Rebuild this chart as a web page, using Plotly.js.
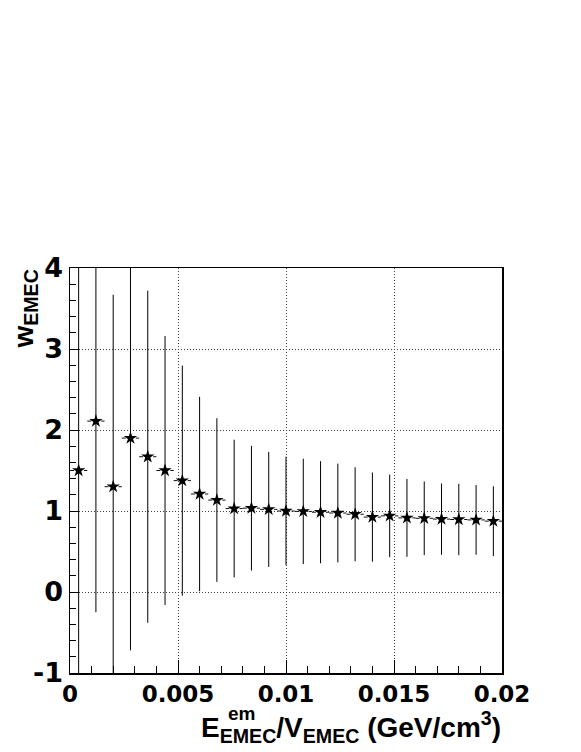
<!DOCTYPE html>
<html>
<head>
<meta charset="utf-8">
<script src="https://cdn.plot.ly/plotly-3.0.1.min.js"></script>
<style>
  body { margin: 0; background: #fff; }
  #C1 { width: 581px; height: 752px; }
</style>
</head>
<body>
<div id="C1"></div>
<script>
// bin centres of E_em/V (GeV/cm^3)
const xVals = [0.0004, 0.0012, 0.0020, 0.0028, 0.0036, 0.0044, 0.0052, 0.0060, 0.0068,
  0.0076, 0.0084, 0.0092, 0.0100, 0.0108, 0.0116, 0.0124, 0.0132, 0.0140,
  0.0148, 0.0156, 0.0164, 0.0172, 0.0180, 0.0188, 0.0196];
// w_EMEC per bin
const wVals = [1.50, 2.11, 1.30, 1.90, 1.67, 1.50, 1.375, 1.21, 1.135,
  1.03, 1.035, 1.02, 1.00, 0.995, 0.985, 0.975, 0.96, 0.925,
  0.94, 0.915, 0.91, 0.90, 0.895, 0.89, 0.875];
// error on w
const wErr = [3.2, 2.36, 2.37, 2.62, 2.05, 1.66, 1.42, 1.20, 1.01,
  0.85, 0.77, 0.71, 0.67, 0.65, 0.63, 0.61, 0.58, 0.55,
  0.51, 0.48, 0.455, 0.44, 0.44, 0.43, 0.43];
// half bin width
const halfBin = [0.0004, 0.0004, 0.0004, 0.0004, 0.0004, 0.0004, 0.0004, 0.0004, 0.0004,
  0.0004, 0.0004, 0.0004, 0.0004, 0.0004, 0.0004, 0.0004, 0.0004, 0.0004,
  0.0004, 0.0004, 0.0004, 0.0004, 0.0004, 0.0004, 0.0004];

// tick labels
const xTicks = [0, 0.005, 0.01, 0.015, 0.02];
const xTickText = ["0", "0.005", "0.01", "0.015", "0.02"];
const yTicks = [-1, 0, 1, 2, 3, 4];
const yTickText = ["-1", "0", "1", "2", "3", "4"];

const fontFam = "Liberation Sans";
const tickFam = "DejaVu Sans"; // wider digits, closer to the original labels

// dashed horizontal bin-width segments
const segX = [];
const segY = [];
xVals.forEach((x, i) => {
  segX.push(x - halfBin[i], x + halfBin[i], null);
  segY.push(wVals[i], wVals[i], null);
});

const data = [
  {
    x: segX,
    y: segY,
    mode: "lines",
    line: { color: "#111", width: 1, dash: "4px,3px" },
    hoverinfo: "skip",
    showlegend: false,
  },
  {
    x: xVals,
    y: wVals,
    mode: "markers",
    marker: { symbol: "star", size: 10, color: "black" },
    error_y: { type: "data", array: wErr, visible: true, color: "black", thickness: 1, width: 0 },
    showlegend: false,
  },
];

const layout = {
  width: 581,
  height: 752,
  margin: { l: 70, r: 79, t: 268, b: 79 },
  paper_bgcolor: "white",
  plot_bgcolor: "white",
  font: { family: fontFam, color: "black" },
  xaxis: {
    range: [0, 0.02],
    tickvals: xTicks,
    ticktext: xTickText.map((t) => "<b>" + t + "</b>"),
    ticks: "inside",
    ticklen: 13,
    tickcolor: "black",
    tickfont: { size: 23, family: tickFam, color: "black" },
    minor: { dtick: 0.001, tick0: 0, ticks: "inside", ticklen: 7, tickcolor: "black", showgrid: false },
    showgrid: true,
    gridcolor: "#444",
    griddash: "1px,2px",
    gridwidth: 1,
    zeroline: false,
    showline: true,
    mirror: true,
    linecolor: "black",
    linewidth: 1.5,
  },
  yaxis: {
    range: [-1, 4],
    tickvals: yTicks,
    ticktext: yTickText.map((t) => "<b>" + t + "</b>"),
    ticks: "inside",
    ticklen: 9,
    tickcolor: "black",
    tickfont: { size: 27, family: tickFam, color: "black" },
    minor: { dtick: 0.2, tick0: 0, ticks: "inside", ticklen: 6, tickcolor: "black", showgrid: false },
    showgrid: true,
    gridcolor: "#444",
    griddash: "1px,2px",
    gridwidth: 1,
    zeroline: false,
    showline: true,
    mirror: true,
    linecolor: "black",
    linewidth: 1.5,
  },
  annotations: [
    // x title, "em" drawn separately so it sits above the EMEC subscript
    {
      text: "<b>E<sub>EMEC</sub>/V<sub>EMEC</sub> (GeV/cm<sup>3</sup>)</b>",
      xref: "paper", yref: "paper",
      x: 1.0023, y: -0.08,
      xanchor: "right", yanchor: "top",
      showarrow: false,
      font: { size: 28, family: fontFam },
    },
    {
      text: "<b>em</b>",
      xref: "paper", yref: "paper",
      x: (226 - 70) / 432, y: -0.131,
      xanchor: "left", yanchor: "bottom",
      showarrow: false,
      font: { size: 19, family: fontFam },
    },
    {
      text: "<b>w<sub>EMEC</sub></b>",
      xref: "paper", yref: "paper",
      x: -0.104, y: 1.0,
      xanchor: "center", yanchor: "top",
      textangle: -90,
      showarrow: false,
      font: { size: 28, family: fontFam },
    },
  ],
};

Plotly.newPlot("C1", data, layout, { displayModeBar: false, staticPlot: true });
</script>
</body>
</html>
